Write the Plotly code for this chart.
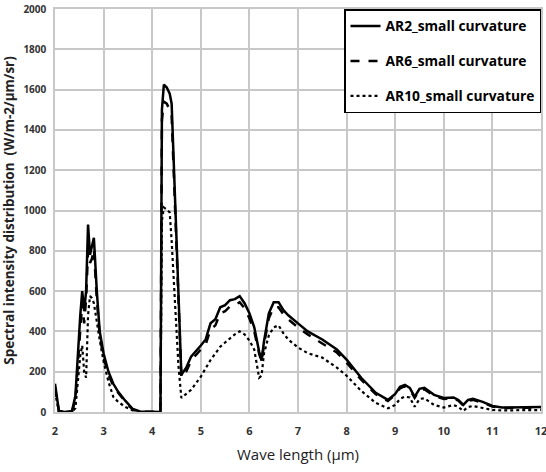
import plotly.graph_objects as go

wavelength = [2.0, 2.04, 2.08, 2.2, 2.35, 2.42, 2.47, 2.52, 2.56, 2.6, 2.64, 2.68, 2.72, 2.76, 2.8, 2.86, 2.92,
              3.0, 3.1, 3.2, 3.3, 3.45, 3.6, 3.75, 4.0, 4.17, 4.2, 4.24, 4.3, 4.36, 4.4, 4.47, 4.54, 4.6,
              4.7, 4.8, 5.0, 5.1, 5.2, 5.3, 5.4, 5.5, 5.6, 5.7, 5.8, 5.9, 6.0, 6.1, 6.2, 6.25, 6.3, 6.4,
              6.5, 6.6, 6.7, 6.8, 7.0, 7.2, 7.5, 7.8, 8.0, 8.3, 8.6, 8.85, 9.0, 9.1, 9.2, 9.3, 9.4, 9.5,
              9.6, 9.8, 10.0, 10.2, 10.3, 10.4, 10.5, 10.6, 10.8, 11.0, 11.2, 11.5, 12.0]

ar2 = [140, 80, 5, 0, 5, 80, 300, 480, 600, 500, 600, 930, 780, 830, 865, 600, 400,
       290, 200, 140, 100, 55, 15, 3, 0, 0, 1500, 1625, 1610, 1580, 1530, 1040, 540, 185,
       220, 275, 330, 360, 440, 460, 520, 530, 555, 560, 575, 540, 490, 420, 300, 255, 350, 490,
       545, 545, 505, 480, 440, 400, 360, 310, 260, 170, 95, 60, 90, 125, 135, 120, 75, 115,
       120, 85, 70, 72, 60, 35, 60, 65, 50, 30, 22, 22, 25]

ar6 = [120, 70, 5, 0, 3, 60, 250, 440, 545, 440, 560, 800, 740, 760, 810, 560, 380,
       270, 185, 130, 95, 50, 12, 2, 0, 0, 1450, 1540, 1530, 1500, 1470, 1000, 520, 170,
       200, 255, 310, 335, 410, 430, 490, 500, 525, 530, 545, 515, 465, 400, 290, 250, 335, 465,
       520, 520, 485, 460, 420, 385, 340, 295, 245, 160, 88, 55, 85, 118, 128, 113, 70, 108,
       113, 80, 65, 68, 56, 32, 56, 60, 46, 27, 20, 20, 22]

ar10 = [100, 50, 0, 0, 0, 20, 150, 280, 330, 200, 170, 480, 575, 565, 540, 440, 357,
        250, 150, 75, 50, 25, 8, 0, 0, 0, 950, 1015, 1005, 990, 850, 540, 230, 70,
        90, 110, 175, 215, 258, 290, 324, 345, 365, 385, 400, 385, 355, 310, 170, 180, 290, 380,
        420, 430, 390, 360, 320, 292, 270, 220, 180, 105, 45, 18, 35, 65, 76, 72, 26, 65,
        68, 35, 22, 35, 25, 5, 25, 30, 20, 10, 8, 8, 10]

series_names = ["AR2_small curvature", "AR6_small curvature", "AR10_small curvature"]
x_ticks = list(range(2, 13))
y_ticks = list(range(0, 2001, 200))

fig = go.Figure()
styles = [("solid", 2.5), ("dash", 2.5), ("dot", 2.2)]
for i, (name, ys) in enumerate(zip(series_names, [ar2, ar6, ar10])):
    dash, w = styles[i]
    fig.add_trace(go.Scatter(x=wavelength, y=ys, mode="lines", name=name,
                             legendgroup=f"g{i}",
                             line=dict(color="black", width=w, dash=dash)))

fig.update_layout(
    width=546, height=472,
    margin=dict(l=55, r=5, t=9, b=60),
    paper_bgcolor="white", plot_bgcolor="white",
    font=dict(family="Open Sans, sans-serif", color="#222"),
    showlegend=True,
    legend=dict(x=1, y=1, xanchor="right", yanchor="top",
                bgcolor="white", bordercolor="black", borderwidth=1.5,
                font=dict(size=13.8, family="Open Sans, sans-serif", color="black", weight="bold"),
                traceorder="grouped", tracegroupgap=14,
                itemwidth=30),
    xaxis=dict(range=[2, 12], tickvals=x_ticks, ticktext=[str(v) for v in x_ticks],
               automargin="bottom", ticklabeloverflow="allow", ticklabelstandoff=8,
               showgrid=True, gridcolor="#c8c8c8", gridwidth=1.5,
               showline=True, linecolor="#c8c8c8", linewidth=1.5, mirror=True,
               zeroline=False, ticks="", ticklen=0,
               tickfont=dict(size=11, color="#333", weight="bold"),
               title=dict(text="Wave length (μm)", font=dict(size=15, color="#222"), standoff=13)),
    yaxis=dict(range=[0, 2000], tickvals=y_ticks, ticktext=[str(v) for v in y_ticks],
               automargin=False, ticklabelstandoff=5,
               showgrid=True, gridcolor="#c8c8c8", gridwidth=1.5,
               showline=True, linecolor="#c8c8c8", linewidth=1.5, mirror=True,
               zeroline=False, ticks="",
               tickfont=dict(size=10, color="#333", weight="bold"),
               title=dict(text="Spectral intensity distribution  (W/m-2/μm/sr)",
                          font=dict(size=13.5, color="#222", weight="bold"), standoff=8)),
)

fig.write_html("out.html", config={"displayModeBar": False},
               post_script="document.body.style.margin='0';")
